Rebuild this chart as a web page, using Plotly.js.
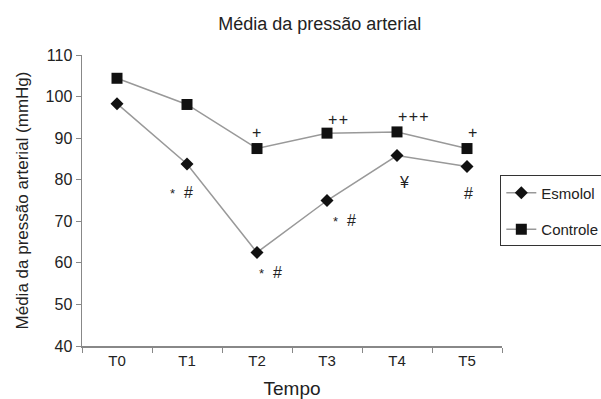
<!DOCTYPE html>
<html><head><meta charset="utf-8">
<script src="https://cdn.plot.ly/plotly-3.0.1.min.js"></script>
<style>body{margin:0;background:#fff}#c{width:601px;height:399px}</style>
</head><body><div id="c"></div>
<script>
const categories = ["T0","T1","T2","T3","T4","T5"];
const esmolol = [98.3, 83.8, 62.5, 75.0, 85.8, 83.2];
const controle = [104.4, 98.1, 87.5, 91.2, 91.5, 87.5];
const esmololMarks = ["", "* #", "* #", "* #", "¥", "#"];
const controleMarks = ["", "", "+", "++", "+++", "+"];
const yTicks = [40,50,60,70,80,90,100,110];

// offsets of the significance marks relative to their points (pixels)
const eShift = [[0,0],[-6,-29],[13,-20],[17,-20],[7,-27],[1,-27]];
const cShift = [[0,0],[0,0],[0,16],[11,14],[17,15],[6,16]];
const fmt = s => s.replace("* ", "<span style='font-size:13px'>*</span>&nbsp;&nbsp;").replace(/\+/g,"+&#8202;");

const annotations = [];
categories.forEach((c,i)=>{
  if (esmololMarks[i]) annotations.push({x:c, y:esmolol[i], text:fmt(esmololMarks[i]), showarrow:false,
    xshift:eShift[i][0], yshift:eShift[i][1], font:{family:"Liberation Sans, Arial", size:16, color:"#222"}});
  if (controleMarks[i]) annotations.push({x:c, y:controle[i], text:fmt(controleMarks[i]), showarrow:false,
    xshift:cShift[i][0], yshift:cShift[i][1], font:{family:"Liberation Sans, Arial", size:16, color:"#222"}});
});

const data = [
  {x:categories, y:esmolol, name:"Esmolol", legendgroup:"e", type:"scatter", mode:"lines+markers",
   line:{color:"#999", width:1.5}, marker:{symbol:"diamond", size:10, color:"#111"}},
  {x:categories, y:controle, name:"Controle", legendgroup:"c", type:"scatter", mode:"lines+markers",
   line:{color:"#999", width:1.5}, marker:{symbol:"square", size:11, color:"#111"}}
];
const layout = {
  width:601, height:399,
  margin:{l:82, r:99, t:55, b:53, autoexpand:false},
  paper_bgcolor:"#fff", plot_bgcolor:"#fff",
  font:{family:"Liberation Sans, Arial", color:"#222"},
  title:{text:"Média da pressão arterial", x:0.532, xanchor:"center", y:0.94, yanchor:"middle", font:{size:18}},
  showlegend:true,
  legend:{x:0.996, xanchor:"left", y:0.586, yanchor:"top", bordercolor:"#333", borderwidth:1,
    font:{size:15}, itemwidth:30, tracegroupgap:14, bgcolor:"#fff"},
  xaxis:{type:"category", range:[-0.5,5.5], showline:true, linecolor:"#888", linewidth:1.5,
    ticks:"outside", tickson:"boundaries", ticklen:5, tickcolor:"#888", showgrid:false, zeroline:false,
    tickfont:{size:15}, title:{text:"Tempo", font:{size:19}, standoff:16}},
  yaxis:{range:[40,110], tickvals:yTicks, showline:true, linecolor:"#888", linewidth:1.5,
    ticks:"outside", ticklen:5, tickcolor:"#888", showgrid:false, zeroline:false,
    tickfont:{size:16}, title:{text:"Média da pressão arterial (mmHg)", font:{size:17}, standoff:12}},
  annotations:annotations
};
Plotly.newPlot("c", data, layout, {displayModeBar:false, staticPlot:true});
</script></body></html>
